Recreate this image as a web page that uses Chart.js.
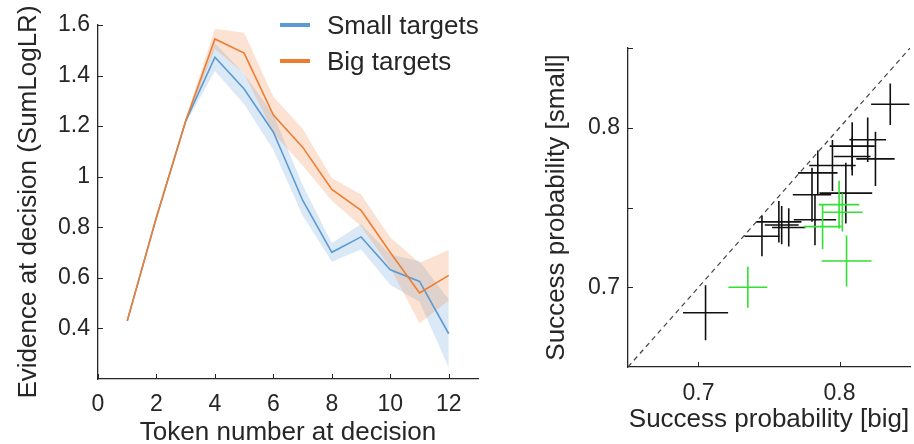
<!DOCTYPE html>
<html>
<head>
<meta charset="utf-8">
<script src="https://cdn.jsdelivr.net/npm/chart.js@4.4.0/dist/chart.umd.min.js"></script>
<style>
  html, body { margin: 0; padding: 0; background: #fff; width: 914px; height: 444px; overflow: hidden; }
  #left { position: absolute; left: 0; top: 0; }
  #right { position: absolute; left: 520px; top: 0; }
</style>
</head>
<body>
<canvas id="left" width="500" height="470" style="width:500px;height:470px"></canvas>
<canvas id="right" width="394" height="470" style="width:394px;height:470px"></canvas>
<script>
// ---- left panel: evidence at decision ----
const tokens = [1, 2, 3, 4, 5, 6, 7, 8, 9, 10, 11, 12];
const smallMean = [0.43, 0.84, 1.22, 1.473, 1.347, 1.176, 0.907, 0.701, 0.762, 0.632, 0.586, 0.379];
const smallErr  = [0, 0, 0.01, 0.055, 0.06, 0.07, 0.06, 0.037, 0.05, 0.06, 0.08, 0.135];
const bigMean   = [0.43, 0.84, 1.22, 1.545, 1.489, 1.244, 1.117, 0.95, 0.867, 0.70, 0.54, 0.61];
const bigErr    = [0, 0, 0.01, 0.04, 0.08, 0.072, 0.073, 0.045, 0.063, 0.06, 0.12, 0.1];
const seriesNames = ['Small targets', 'Big targets'];
const leftXTicks = [0, 2, 4, 6, 8, 10, 12];
const leftYTicks = [0.4, 0.6, 0.8, 1, 1.2, 1.4, 1.6];

// ---- right panel: success probability, small vs big ----
const blackX    = [0.705, 0.745, 0.757, 0.759, 0.764, 0.7805, 0.7826, 0.7846, 0.795, 0.8045, 0.809, 0.809, 0.820, 0.8255, 0.836];
const blackY    = [0.684, 0.732, 0.741, 0.739, 0.7375, 0.758, 0.7423, 0.7717, 0.7763, 0.759, 0.7885, 0.782, 0.7925, 0.7805, 0.8147];
const blackXErr = [0.016, 0.0124, 0.016, 0.012, 0.0118, 0.0136, 0.015, 0.014, 0.0165, 0.0187, 0.016, 0.013, 0.013, 0.0136, 0.0136];
const blackYErr = [0.0173, 0.0126, 0.013, 0.012, 0.012, 0.017, 0.016, 0.014, 0.016, 0.019, 0.015, 0.012, 0.014, 0.017, 0.013];
const greenX    = [0.735, 0.788, 0.7997, 0.802, 0.805];
const greenY    = [0.700, 0.738, 0.7518, 0.747, 0.7165];
const greenXErr = [0.0138, 0.0134, 0.0144, 0.0144, 0.0177];
const greenYErr = [0.0128, 0.014, 0.015, 0.012, 0.016];
const diagLine  = [0.65, 0.85];
const rightXTicks = [0.7, 0.8];
const rightYTicks = [0.7, 0.75, 0.8, 0.85];
const rightYLabels = [0.7, 0.8];

const BLUE = '#5B9BD5';
const ORANGE = '#ED7D31';
const AXIS = '#262626';
const FONT = "'Liberation Sans', Arial, sans-serif";

Chart.defaults.font.family = FONT;
Chart.defaults.color = AXIS;
Chart.defaults.animation = false;

const pts = (xs, ys) => xs.map((x, i) => ({ x, y: ys[i] }));

// small inward tick marks, MATLAB style
const inwardTicks = {
  id: 'inwardTicks',
  afterDraw(chart, args, opts) {
    const { ctx, chartArea: a, scales: { x, y } } = chart;
    const len = opts.length || 5;
    ctx.save();
    ctx.strokeStyle = AXIS;
    ctx.lineWidth = 1;
    ctx.beginPath();
    x.ticks.forEach(t => {
      const px = Math.round(x.getPixelForValue(t.value)) + 0.5;
      ctx.moveTo(px, a.bottom);
      ctx.lineTo(px, a.bottom - len);
    });
    y.ticks.forEach(t => {
      const py = Math.round(y.getPixelForValue(t.value)) + 0.5;
      ctx.moveTo(a.left, py);
      ctx.lineTo(a.left + len, py);
    });
    ctx.stroke();
    ctx.restore();
  }
};

// legend drawn inside the plot area, top right
const cornerLegend = {
  id: 'cornerLegend',
  afterDraw(chart) {
    const { ctx, chartArea: a } = chart;
    const items = chart.data.datasets.filter(d => d.inLegend);
    ctx.save();
    ctx.font = '26px ' + FONT;
    ctx.textBaseline = 'middle';
    ctx.fillStyle = AXIS;
    items.forEach((d, i) => {
      const yy = a.top + i * 36;
      ctx.strokeStyle = d.borderColor;
      ctx.lineWidth = 4;
      ctx.beginPath();
      ctx.moveTo(a.right - 198, yy);
      ctx.lineTo(a.right - 168, yy);
      ctx.stroke();
      ctx.fillText(d.label, a.right - 151, yy + 2);
    });
    ctx.restore();
  }
};

// error crosses for the scatter panel
const crosses = {
  id: 'crosses',
  afterDatasetsDraw(chart) {
    const { ctx, scales: { x, y } } = chart;
    chart.data.datasets.forEach(ds => {
      if (!ds.xErr) return;
      ctx.save();
      ctx.strokeStyle = ds.borderColor;
      ctx.lineWidth = 1.6;
      ds.data.forEach((p, j) => {
        const px = x.getPixelForValue(p.x), py = y.getPixelForValue(p.y);
        ctx.beginPath();
        ctx.moveTo(x.getPixelForValue(p.x - ds.xErr[j]), py);
        ctx.lineTo(x.getPixelForValue(p.x + ds.xErr[j]), py);
        ctx.moveTo(px, y.getPixelForValue(p.y - ds.yErr[j]));
        ctx.lineTo(px, y.getPixelForValue(p.y + ds.yErr[j]));
        ctx.stroke();
      });
      ctx.restore();
    });
  }
};

const band = (mean, err, sign) => mean.map((v, i) => v + sign * err[i]);

new Chart(document.getElementById('left'), {
  type: 'line',
  data: {
    datasets: [
      { data: pts(tokens, band(smallMean, smallErr, 1)), fill: '+1', backgroundColor: 'rgba(91,155,213,0.22)', borderWidth: 0, pointRadius: 0, order: 5 },
      { data: pts(tokens, band(smallMean, smallErr, -1)), fill: false, borderWidth: 0, pointRadius: 0, order: 5 },
      { data: pts(tokens, band(bigMean, bigErr, 1)), fill: '+1', backgroundColor: 'rgba(237,125,49,0.22)', borderWidth: 0, pointRadius: 0, order: 4 },
      { data: pts(tokens, band(bigMean, bigErr, -1)), fill: false, borderWidth: 0, pointRadius: 0, order: 4 },
      { label: seriesNames[0], inLegend: true, data: pts(tokens, smallMean), borderColor: BLUE, borderWidth: 1.6, pointRadius: 0, fill: false, order: 1 },
      { label: seriesNames[1], inLegend: true, data: pts(tokens, bigMean), borderColor: ORANGE, borderWidth: 1.6, pointRadius: 0, fill: false, order: 0 }
    ]
  },
  options: {
    responsive: false,
    layout: { padding: { top: 25, right: 22, left: 0, bottom: 0 } },
    plugins: { legend: { display: false }, tooltip: { enabled: false }, inwardTicks: { length: 5 } },
    scales: {
      x: {
        type: 'linear', min: 0, max: 13,
        afterBuildTicks: s => { s.ticks = leftXTicks.map(v => ({ value: v })); },
        afterFit: s => { s.height = 91; },
        grid: { display: false, drawTicks: false },
        border: { display: true, color: AXIS, width: 1.3 },
        ticks: { font: { size: 23 }, padding: 12, color: AXIS, maxRotation: 0, callback: v => String(v) },
        title: { display: true, text: 'Token number at decision', font: { size: 26, lineHeight: 1 }, color: AXIS, padding: { top: 0, bottom: 24 } }
      },
      y: {
        type: 'linear', min: 0.2, max: 1.6,
        afterBuildTicks: s => { s.ticks = leftYTicks.map(v => ({ value: v })); },
        afterFit: s => { s.width = 98; },
        grid: { display: false, drawTicks: false },
        border: { display: true, color: AXIS, width: 1.3 },
        ticks: { font: { size: 23 }, padding: 8, color: AXIS, callback: v => String(v) },
        title: { display: true, text: 'Evidence at decision (SumLogLR)', font: { size: 26, lineHeight: 1 }, color: AXIS, padding: { top: 16, bottom: 0 } }
      }
    }
  },
  plugins: [inwardTicks, cornerLegend]
});

new Chart(document.getElementById('right'), {
  type: 'scatter',
  data: {
    datasets: [
      { type: 'line', data: pts(diagLine, diagLine), borderColor: '#444', borderWidth: 1.2, borderDash: [5, 4], pointRadius: 0, fill: false },
      { data: pts(blackX, blackY), xErr: blackXErr, yErr: blackYErr, borderColor: '#111', pointRadius: 0 },
      { data: pts(greenX, greenY), xErr: greenXErr, yErr: greenYErr, borderColor: '#33e033', pointRadius: 0 }
    ]
  },
  options: {
    responsive: false,
    layout: { padding: { top: 48, right: 4, left: 0, bottom: 0 } },
    plugins: { legend: { display: false }, tooltip: { enabled: false }, inwardTicks: { length: 5 } },
    scales: {
      x: {
        type: 'linear', min: 0.65, max: 0.85,
        afterBuildTicks: s => { s.ticks = rightXTicks.map(v => ({ value: v })); },
        afterFit: s => { s.height = 103; },
        grid: { display: false, drawTicks: false },
        border: { display: true, color: AXIS, width: 1.3 },
        ticks: { font: { size: 23 }, padding: 13, color: AXIS, maxRotation: 0, callback: v => String(v) },
        title: { display: true, text: 'Success probability [big]', font: { size: 26, lineHeight: 1 }, color: AXIS, padding: { top: 0, bottom: 37 } }
      },
      y: {
        type: 'linear', min: 0.65, max: 0.85,
        afterBuildTicks: s => { s.ticks = rightYTicks.map(v => ({ value: v })); },
        afterFit: s => { s.width = 108; },
        grid: { display: false, drawTicks: false },
        border: { display: true, color: AXIS, width: 1.3 },
        ticks: {
          font: { size: 23 }, padding: 8, color: AXIS,
          callback: v => rightYLabels.includes(Math.round(v * 100) / 100) ? String(v) : ''
        },
        title: { display: true, text: 'Success probability [small]', font: { size: 26, lineHeight: 1 }, color: AXIS, padding: { top: 24, bottom: 0 } }
      }
    }
  },
  plugins: [inwardTicks, crosses]
});
</script>
</body>
</html>
